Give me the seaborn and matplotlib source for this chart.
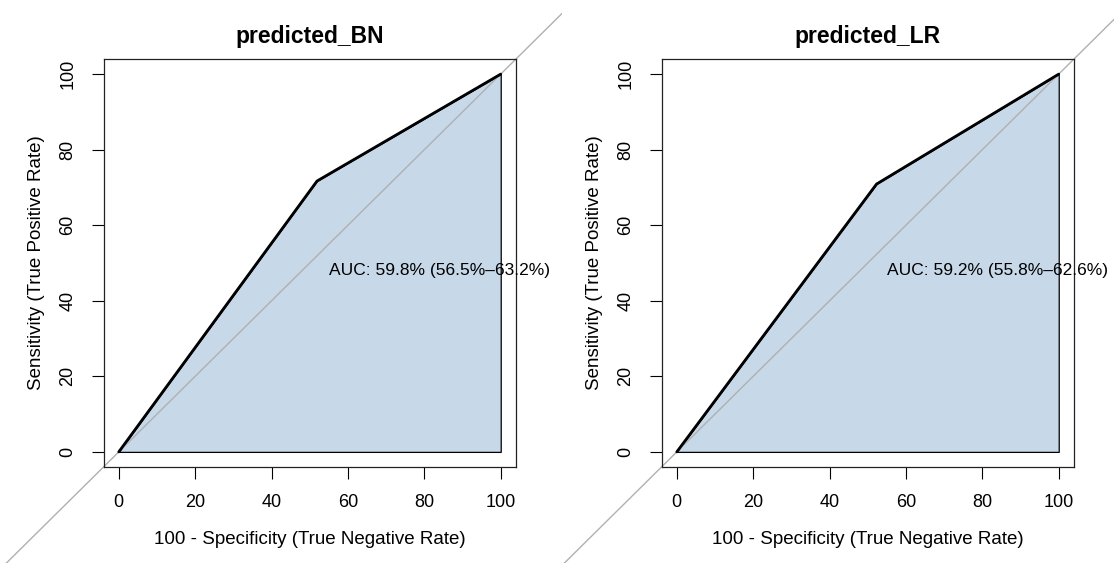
import numpy as np
import pandas as pd
import matplotlib
matplotlib.use('Agg')
import matplotlib.pyplot as plt
from matplotlib.patches import Rectangle
import seaborn as sns

# ROC 곡선 데이터 (100 - specificity, sensitivity), 퍼센트 단위
titles = ['predicted_BN', 'predicted_LR']
fpr_bn = [0, 51.9, 100]
tpr_bn = [0, 71.7, 100]
fpr_lr = [0, 52.3, 100]
tpr_lr = [0, 70.9, 100]
auc_text = ['AUC: 59.8% (56.5%\u201363.2%)', 'AUC: 59.2% (55.8%\u201362.6%)']
ticks = [0, 20, 40, 60, 80, 100]

sns.set_style('ticks')
plt.rcParams['font.family'] = ['Liberation Sans', 'DejaVu Sans']
plt.rcParams['axes.unicode_minus'] = False
# 글자색 검정으로
for k in ['text.color', 'axes.labelcolor', 'xtick.color', 'ytick.color']:
    plt.rcParams[k] = 'black'

W, H = 1114, 563
fig = plt.figure(figsize=(W / 100, H / 100), dpi=100)

curves = [(fpr_bn, tpr_bn), (fpr_lr, tpr_lr)]
lefts = [103.5, 661.5]
clips = [(0, 562), (557, 1114)]

for i, (fpr, tpr) in enumerate(curves):
    ax = fig.add_axes([lefts[i] / W, (H - 467) / H, 412.5 / W, 408 / H])
    df = pd.DataFrame({'fpr': fpr, 'tpr': tpr})

    # AUC 영역
    ax.fill_between(df['fpr'], 0, df['tpr'], facecolor='#c7d8e8',
                    edgecolor='black', linewidth=0.9, zorder=1)

    # 대각선 (그림 영역까지 연장)
    diag, = ax.plot([-60, 160], [-60, 160], color='#b0b0b0', lw=1.0, zorder=2)
    c0, c1 = clips[i]
    rect = Rectangle((c0 / W, 0), (c1 - c0) / W, 1, transform=fig.transFigure)
    diag.set_clip_path(rect)

    # ROC 곡선
    sns.lineplot(data=df, x='fpr', y='tpr', color='black', lw=2.0,
                 sort=False, estimator=None, ax=ax, zorder=3)

    ax.text(55, 50, auc_text[i], ha='left', va='top', fontsize=12.5, zorder=4)

    ax.set_xlim(-4, 104)
    ax.set_ylim(-4, 104)
    ax.set_xticks(ticks)
    ax.set_yticks(ticks)
    ax.set_yticklabels([str(t) for t in ticks], rotation=90, va='center')
    ax.tick_params(length=8.5, width=0.8, pad=11, labelsize=13, color='black')
    for s in ax.spines.values():
        s.set_visible(True)
        s.set_linewidth(0.9)
        s.set_color('#222222')

    ax.set_xlabel('100 - Specificity (True Negative Rate)', fontsize=13.5)
    ax.set_ylabel('Sensitivity (True Positive Rate)', fontsize=13.5)
    ax.xaxis.set_label_coords(0.5, -0.158)
    ax.yaxis.set_label_coords(-0.142, 0.5)
    ax.set_title(titles[i], fontsize=16.5, fontweight='bold', pad=11.5)

plt.savefig('out.png', dpi=100)
